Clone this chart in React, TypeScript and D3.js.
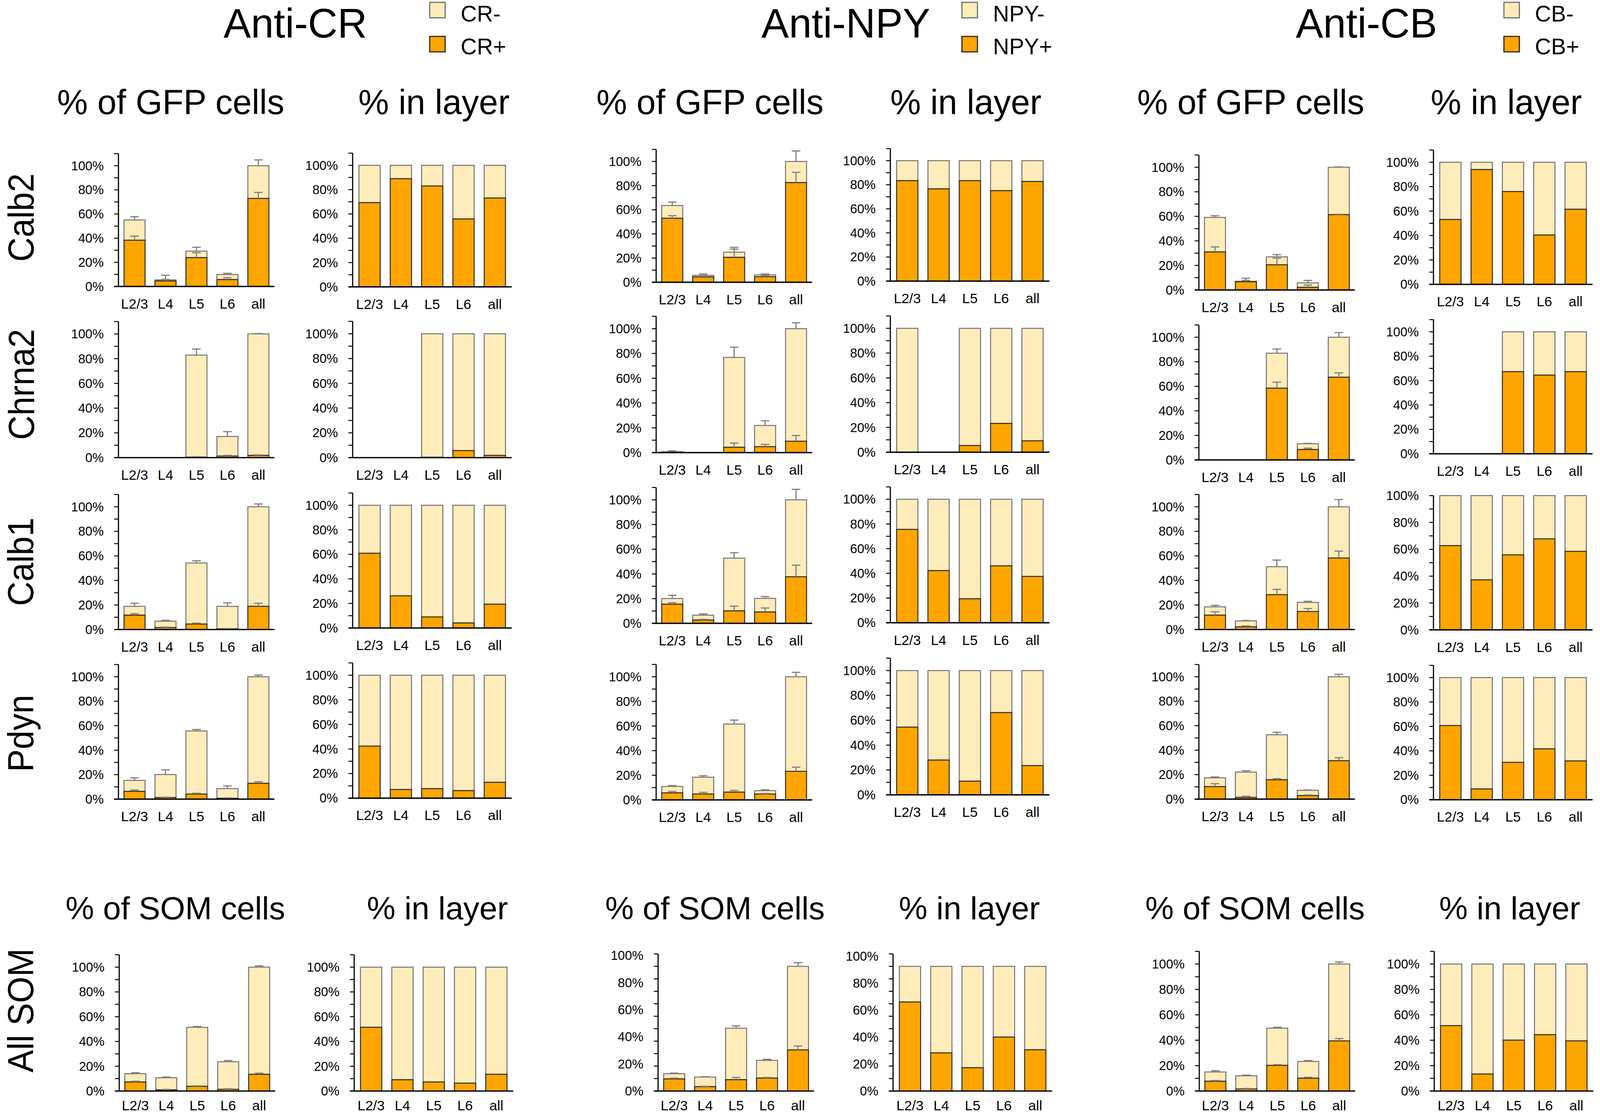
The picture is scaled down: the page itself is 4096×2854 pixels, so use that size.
import * as d3 from "d3";
import React from "react";

const LAYERS = ["L2/3", "L4", "L5", "L6", "all"];
const MARKERS = ["Calb2", "Chrna2", "Calb1", "Pdyn", "All SOM"];
const ANTIBODIES = ["CR", "NPY", "CB"];
const TICK_LABELS = [0, 20, 40, 60, 80, 100];

// ---- Anti-CR ----  rows: Calb2, Chrna2, Calb1, Pdyn, All SOM ; cols: layers
const crGfpPos = [
  [38.3, 4.6, 23.9, 5.7, 72.9],
  [0, 0, 0.4, 1.3, 1.8],
  [11.7, 1.6, 4.5, 0.5, 18.9],
  [6.3, 1.3, 4.1, 0.7, 12.9],
  [7.3, 1.0, 3.8, 1.4, 13.5],
];
const crGfpPosErr = [
  [3.4, 1.3, 4.1, 1.6, 5.0],
  [0, 0, 0.3, 0.5, 0.4],
  [1.2, 0.4, 0.7, 0.2, 2.5],
  [1.1, 0.3, 0.7, 0.3, 1.3],
  [0.6, 0.3, 0.4, 0.4, 0.9],
];
const crGfpTotal = [
  [55.1, 5.5, 29.3, 9.9, 100],
  [0, 0, 82.9, 17.1, 100],
  [18.9, 6.8, 54.2, 18.9, 100],
  [15.3, 20.1, 55.7, 8.6, 100],
  [14.0, 10.7, 51.4, 23.6, 100],
];
const crGfpTotalErr = [
  [2.7, 3.8, 3.2, 1.0, 4.8],
  [0, 0, 4.9, 3.9, 0.3],
  [2.5, 0.7, 1.8, 2.8, 2.3],
  [2.1, 3.8, 1.2, 2.2, 1.4],
  [0.8, 0.6, 0.7, 1.0, 1.0],
];
const crLayerPos = [
  [69.3, 89.0, 83.0, 55.9, 73.1],
  [null, null, 0.3, 5.7, 1.8],
  [60.9, 26.2, 9.0, 4.1, 19.4],
  [42.3, 7.0, 7.7, 6.1, 12.9],
  [51.5, 9.1, 7.3, 6.4, 13.5],
];

// ---- Anti-NPY ----
const npyGfpPos = [
  [53.0, 4.4, 20.6, 4.6, 82.5],
  [0.3, 0, 4.3, 4.8, 9.2],
  [15.5, 2.7, 10.1, 9.2, 37.7],
  [5.7, 4.8, 6.3, 4.8, 23.2],
  [9.7, 3.5, 9.1, 10.4, 33.0],
];
const npyGfpPosErr = [
  [2.1, 0.6, 6.8, 0.6, 8.5],
  [0.2, 0, 3.4, 1.8, 4.6],
  [1.2, 0.5, 3.8, 3.2, 9.4],
  [1.1, 1.3, 1.4, 0.4, 3.4],
  [0.6, 0.3, 1.8, 0.5, 3.1],
];
const npyGfpTotal = [
  [63.5, 5.7, 24.9, 6.1, 100],
  [0.7, 0, 76.8, 21.9, 100],
  [20.1, 6.6, 52.8, 20.2, 100],
  [10.9, 18.4, 61.6, 7.5, 100],
  [13.9, 11.2, 50.4, 24.6, 100],
];
const npyGfpTotalErr = [
  [2.8, 1.1, 4.0, 0.7, 8.7],
  [0.7, 0, 8.3, 3.8, 4.8],
  [2.6, 1.0, 4.4, 1.5, 8.5],
  [0.7, 1.2, 3.2, 0.7, 3.6],
  [0.5, 0.3, 1.8, 0.8, 3.0],
];
const npyLayerPos = [
  [83.4, 76.6, 83.4, 75.1, 82.7],
  [0, null, 5.4, 23.2, 9.2],
  [75.6, 42.2, 19.4, 46.1, 37.5],
  [54.5, 28.0, 11.0, 66.2, 23.5],
  [71.4, 30.6, 18.7, 43.3, 33.1],
];

// ---- Anti-CB ----
const cbGfpPos = [
  [31.0, 6.7, 20.5, 2.2, 61.4],
  [0, 0, 58.5, 8.5, 67.4],
  [11.7, 2.2, 28.4, 14.7, 58.3],
  [10.2, 1.4, 15.8, 2.9, 31.4],
  [7.7, 1.6, 20.2, 10.1, 39.5],
];
const cbGfpPosErr = [
  [4.1, 1.1, 5.4, 1.8, 0.3],
  [0, 0, 4.9, 1.1, 3.6],
  [2.8, 0.7, 4.3, 2.4, 5.6],
  [2.4, 0.9, 0.9, 0.5, 2.5],
  [0.6, 0.4, 0.6, 0.7, 1.8],
];
const cbGfpTotal = [
  [59.1, 7.1, 27.0, 5.8, 100],
  [0, 0, 87.0, 13.2, 100],
  [18.5, 7.0, 51.2, 22.1, 100],
  [17.4, 22.1, 52.6, 7.2, 100],
  [15.0, 12.0, 49.5, 23.3, 100],
];
const cbGfpTotalErr = [
  [1.4, 2.5, 1.8, 2.0, 0.3],
  [0, 0, 3.4, 0.3, 3.8],
  [1.2, 0.4, 5.4, 0.9, 5.9],
  [0.7, 1.1, 2.0, 0.3, 2.0],
  [1.0, 0.5, 0.7, 0.7, 1.6],
];
const cbLayerPos = [
  [53.1, 94.0, 76.0, 40.4, 61.5],
  [null, null, 67.3, 64.5, 67.3],
  [62.7, 37.3, 55.9, 67.8, 58.5],
  [60.7, 8.8, 30.6, 41.6, 31.7],
  [51.5, 13.4, 40.1, 44.4, 39.5],
];

const SERIES = {
  CR: { pos: crGfpPos, posErr: crGfpPosErr, total: crGfpTotal, totalErr: crGfpTotalErr, layer: crLayerPos },
  NPY: { pos: npyGfpPos, posErr: npyGfpPosErr, total: npyGfpTotal, totalErr: npyGfpTotalErr, layer: npyLayerPos },
  CB: { pos: cbGfpPos, posErr: cbGfpPosErr, total: cbGfpTotal, totalErr: cbGfpTotalErr, layer: cbLayerPos },
};

// layout (reference pixels) : [axis x, y of 100%, y of 0%] for the 6 charts of each row
const PANEL_GEOM = [
  [[306, 428, 740], [911, 427, 741], [1695, 417, 729], [2300, 415, 726], [3097, 432, 749], [3703, 419, 734.5]],
  [[306, 862.5, 1182], [911, 862, 1182], [1695, 849, 1169], [2300, 848, 1168], [3097, 871, 1188], [3703, 857, 1172]],
  [[306, 1309, 1626], [911, 1305, 1622], [1695, 1291, 1610], [2300, 1289.5, 1608.5], [3097, 1309, 1626], [3703, 1280, 1627]],
  [[306, 1748, 2064], [911, 1744, 2061.5], [1695, 1748, 2066], [2300, 1732, 2053], [3097, 1748, 2064], [3703, 1750, 2065.5]],
  [[308, 2498, 2818], [915, 2498, 2818], [1700, 2496, 2818], [2307, 2496, 2818], [3098, 2490, 2818], [3705, 2490, 2818]],
];
// the NPY / All SOM panels have their tick labels shifted up in the original
const LABEL_TOP: Record<string, number> = { "4-2": 2468, "4-3": 2470 };
const AXIS_MAX: Record<string, number> = { "2-5": 100 };

const TITLE_X = [763, 2185, 3530];
const LEGEND_X = [1110, 2485, 3885];
const SUB_X = [[441, 1121], [1834, 2495], [3231, 3891]];
const SOM_SUB_X = [[453, 1130], [1847, 2504], [3242, 3900]];
const ROW_LABEL_X = [87, 88, 86, 86, 86];
const ROW_LABEL_Y = [562, 993, 1451, 1894, 2610];

const ORANGE = "#FFA500";
const ORANGE_EDGE = "#2a2a2a";
const CREAM = "#FFECBB";
const CREAM_EDGE = "#727272";
const ERR = "#808080";
const FONT = "'Liberation Sans', Arial, Helvetica, sans-serif";

function Axes({ ax, y0, y, labelY, x, width, axisMax, xLabelDy }) {
  const ticks = d3.range(0, axisMax + 1, 10);
  return (
    <g>
      {ticks.map((t) => (
        <line key={t} x1={ax - 11} x2={ax} y1={y(t)} y2={y(t)} stroke="#000" strokeWidth={2.5} />
      ))}
      <line x1={ax} x2={ax} y1={y0} y2={y(axisMax)} stroke="#000" strokeWidth={3} />
      <line x1={ax - 11} x2={ax + width} y1={y0} y2={y0} stroke="#000" strokeWidth={3.5} />
      {TICK_LABELS.map((t) => (
        <text key={t} x={ax - 38} y={labelY(t)} dy="0.35em" textAnchor="end" fontSize={33}>
          {t}%
        </text>
      ))}
      {LAYERS.map((l) => (
        <text key={l} x={x(l) + x.bandwidth() / 2} y={y0 + xLabelDy} textAnchor="middle" fontSize={36}>
          {l}
        </text>
      ))}
    </g>
  );
}

function ErrBar({ cx, from, to }) {
  return (
    <g stroke={ERR} strokeWidth={3}>
      <line x1={cx} x2={cx} y1={from} y2={to} />
      <line x1={cx - 11} x2={cx + 11} y1={to} y2={to} />
    </g>
  );
}

function StackChart({ geom, labelTop, axisMax, pos, total, posErr, totalErr, width, padOuter, xLabelDy }) {
  const [ax, y100, y0] = geom;
  const y = d3.scaleLinear().domain([0, 100]).range([y0, y100]);
  const labelY = d3.scaleLinear().domain([0, 100]).range([y0, labelTop ?? y100]);
  const x = d3.scaleBand().domain(LAYERS).range([ax, ax + width]).paddingInner(0.32).paddingOuter(padOuter);
  const bw = x.bandwidth();
  return (
    <g>
      {LAYERS.map((l, i) =>
        total[i] > 0 ? (
          <g key={l}>
            <rect x={x(l)} y={y(total[i])} width={bw} height={y(pos[i]) - y(total[i])}
              fill={CREAM} stroke={CREAM_EDGE} strokeWidth={2.5} />
            <rect x={x(l)} y={y(pos[i])} width={bw} height={Math.max(0.5, y0 - y(pos[i]))}
              fill={ORANGE} stroke={ORANGE_EDGE} strokeWidth={2.5} />
          </g>
        ) : null
      )}
      {posErr &&
        LAYERS.map((l, i) =>
          total[i] > 0 ? (
            <g key={l}>
              <ErrBar cx={x(l) + bw / 2} from={y(total[i])} to={y(total[i] + totalErr[i])} />
              <ErrBar cx={x(l) + bw / 2} from={y(pos[i])} to={y(pos[i] + posErr[i])} />
            </g>
          ) : null
        )}
      <Axes ax={ax} y0={y0} y={y} labelY={labelY} x={x} width={width} axisMax={axisMax} xLabelDy={xLabelDy} />
    </g>
  );
}

export default function App() {
  const charts = [];
  MARKERS.forEach((m, r) => {
    const xLabelDy = r === MARKERS.length - 1 ? 50 : 57;
    ANTIBODIES.forEach((ab, c) => {
      const s = SERIES[ab];
      const li = c * 2;
      const ri = c * 2 + 1;
      charts.push(
        <StackChart key={`${r}-${li}`} geom={PANEL_GEOM[r][li]} labelTop={LABEL_TOP[`${r}-${li}`]}
          axisMax={AXIS_MAX[`${r}-${li}`] ?? 110} pos={s.pos[r]} total={s.total[r]}
          posErr={s.posErr[r]} totalErr={s.totalErr[r]} width={403} padOuter={0.18} xLabelDy={xLabelDy} />
      );
      const layerTotal = s.layer[r].map((v) => (v === null ? 0 : 100));
      const layerPos = s.layer[r].map((v) => (v === null ? 0 : v));
      charts.push(
        <StackChart key={`${r}-${ri}`} geom={PANEL_GEOM[r][ri]} labelTop={LABEL_TOP[`${r}-${ri}`]}
          axisMax={AXIS_MAX[`${r}-${ri}`] ?? 110} pos={layerPos} total={layerTotal}
          width={411} padOuter={0.2} xLabelDy={xLabelDy} />
      );
    });
  });

  return (
    <svg width={4096} height={2854} style={{ position: "absolute", left: 0, top: 0, background: "#fff" }}
      fontFamily={FONT}>
      <g transform="scale(0.991)">
        {ANTIBODIES.map((ab, c) => (
          <g key={ab}>
            <text x={TITLE_X[c]} y={97} textAnchor="middle" fontSize={106}>Anti-{ab}</text>
            <rect x={LEGEND_X[c]} y={6} width={40} height={40} fill={CREAM} stroke={CREAM_EDGE} strokeWidth={3} />
            <rect x={LEGEND_X[c]} y={94} width={40} height={40} fill={ORANGE} stroke={ORANGE_EDGE} strokeWidth={3} />
            <text x={LEGEND_X[c] + 80} y={55} fontSize={58}>{ab}-</text>
            <text x={LEGEND_X[c] + 80} y={140} fontSize={58}>{ab}+</text>
            <text x={SUB_X[c][0]} y={295} textAnchor="middle" fontSize={89}>% of GFP cells</text>
            <text x={SUB_X[c][1]} y={295} textAnchor="middle" fontSize={89}>% in layer</text>
            <text x={SOM_SUB_X[c][0]} y={2374} textAnchor="middle" fontSize={83}>% of SOM cells</text>
            <text x={SOM_SUB_X[c][1]} y={2374} textAnchor="middle" fontSize={83}>% in layer</text>
          </g>
        ))}
        {MARKERS.map((m, r) => (
          <text key={m} textAnchor="middle" fontSize={94}
            transform={`translate(${ROW_LABEL_X[r]},${ROW_LABEL_Y[r]}) rotate(-90) scale(0.93,1)`}>
            {m}
          </text>
        ))}
        {charts}
      </g>
    </svg>
  );
}
